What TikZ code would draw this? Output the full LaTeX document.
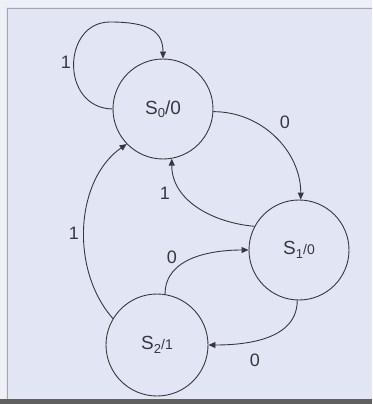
\documentclass[tikz,border=0pt]{standalone}
\usepackage{fontspec}
\setmainfont{Liberation Sans}
\usetikzlibrary{arrows.meta}
\definecolor{bg}{RGB}{226,230,244}
\definecolor{bgedge}{RGB}{238,240,248}
\definecolor{ink}{RGB}{55,55,65}
\tikzset{
  x=1pt, y=-1pt,
  state/.style={circle, draw=ink, line width=0.9pt, minimum size=100pt, inner sep=0pt, font=\fontsize{19}{19}\selectfont, text=ink},
  trans/.style={draw=ink, line width=0.9pt, -{Triangle[length=7pt,width=6pt]}},
  lbl/.style={font=\fontsize{18}{18}\selectfont, text=ink, inner sep=0pt}
}
\newcommand{\sub}[1]{\raisebox{-0.35ex}{\fontsize{13}{13}\selectfont #1}}
\newcommand{\sml}[1]{{\fontsize{14}{14}\selectfont #1}}
\begin{document}
\begin{tikzpicture}
\useasboundingbox (0,0) rectangle (372,404);
\fill[bg] (0,0) rectangle (372,404);
\fill[bgedge] (0,0) rectangle (372,7);
\fill[bgedge] (0,0) rectangle (6,404);
\draw[gray!70, line width=0.8pt] (7,404) -- (7,8) -- (372,8);
\fill[gray!75!black] (0,399) rectangle (372,404);

\node[state] (S0) at (163,109) {S\sub{0}/0};
\node[state] (S1) at (299,250) {S\sub{1}\sml{/0}};
\node[state, minimum size=102pt] (S2) at (157,345) {S\sub{2}\sml{/1}};

% self loop on S0
\draw[trans] (S0.west) .. controls (60,108) and (62,22) .. (110,22)
   .. controls (150,22) and (163,32) .. (S0.north);
\node[lbl] (l1) at (66,62) {1};

% S0 -> S1
\draw[trans] (S0.-3) to[out=0,in=90] (S1.88);
\node[lbl] (l2) at (285,122) {0};

% S1 -> S0
\draw[trans] (S1.152) to[out=175,in=-90] (S0.-80);
\node[lbl] (l3) at (165,193) {1};

% S2 -> S0
\draw[trans] (S2.149) .. controls (70,270) and (75,180) .. (S0.-136);
\node[lbl] (l4) at (74,233) {1};

% S2 -> S1
\draw[trans] (S2.81) to[out=90,in=180] (S1.west);
\node[lbl] (l5) at (172,257) {0};

% S1 -> S2
\draw[trans] (S1.-92) to[out=-90,in=0] (S2.east);
\node[lbl] (l6) at (255,360) {0};
\end{tikzpicture}
\end{document}
